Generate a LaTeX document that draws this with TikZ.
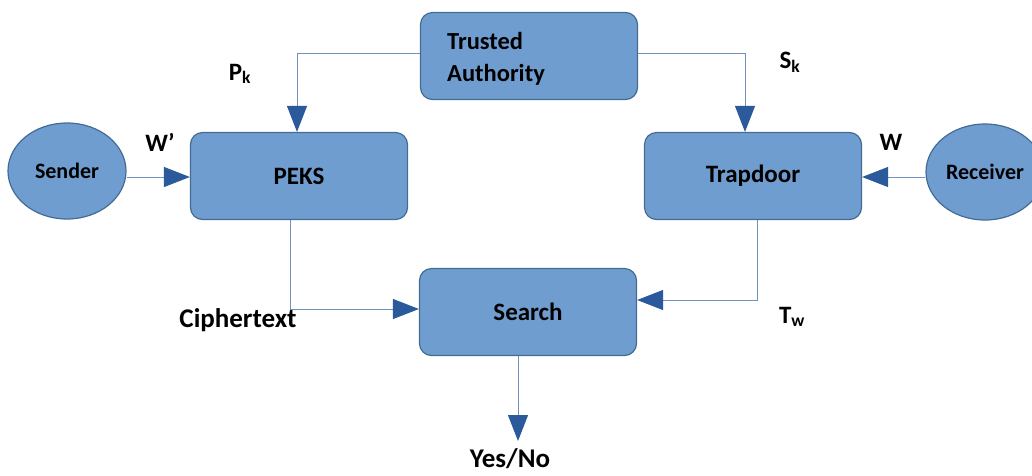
\documentclass[tikz,border=0pt]{standalone}
\usepackage{fontspec}
\setmainfont{Carlito}
\usetikzlibrary{arrows.meta,shapes.geometric}
\definecolor{boxfill}{RGB}{112,157,208}
\definecolor{boxline}{RGB}{66,108,150}
\definecolor{wire}{RGB}{110,145,190}
\definecolor{tipblue}{RGB}{42,90,155}
\tikzset{
  stage/.style={draw=boxline, line width=1.2pt, fill=boxfill, rounded corners=12pt,
    minimum width=217pt, minimum height=87pt, font=\fontsize{25}{28}\selectfont\bfseries},
  party/.style={ellipse, draw=boxline, line width=1.2pt, fill=boxfill,
    minimum width=118pt, minimum height=96pt, inner sep=0pt, font=\fontsize{22}{24}\selectfont\bfseries},
  flow/.style={draw=wire, line width=1pt,
    -{Triangle[length=26pt,width=20pt,fill=tipblue,color=tipblue]}},
  tag/.style={font=\fontsize{25}{28}\selectfont\bfseries, inner sep=0pt}
}
\begin{document}
\begin{tikzpicture}[x=1pt,y=-1pt]
\useasboundingbox (0,0) rectangle (1032,475);

% processing stages
\node[stage] (ta) at (529,56) {};
\node[align=left, anchor=west, inner sep=0pt,
  font=\fontsize{24.5}{32}\selectfont\bfseries] (talabel) at (447,59)
  {Trusted\\Authority};
\node[stage] (peks) at (299,176) {PEKS};
\node[stage] (trap) at (753,176) {Trapdoor};
\node[stage] (search) at (528,312) {Search};

% communicating parties
\node[party] (sender) at (67,171) {Sender};
\node[party] (receiver) at (985,172) {Receiver};

% key distribution
\coordinate (pkcorner) at (297,53);
\coordinate (skcorner) at (745,53);
\draw[flow] (ta.west |- pkcorner) -- (pkcorner) -- (pkcorner |- peks.north);
\draw[flow] (ta.east |- skcorner) -- (skcorner) -- (skcorner |- trap.north);

% keyword inputs
\draw[flow] (sender.east |- 0,177) -- (peks.west |- 0,177);
\draw[flow] (receiver.west |- 0,177) -- (trap.east |- 0,177);

% ciphertext and trapdoor into search
\coordinate (ctcorner) at (290,309);
\coordinate (twcorner) at (757,300);
\draw[flow] (ctcorner |- peks.south) -- (ctcorner) -- (search.west |- ctcorner);
\draw[flow] (twcorner |- trap.south) -- (twcorner) -- (search.east |- twcorner);

% result
\coordinate (result) at (518,441);
\draw[flow] (result |- search.south) -- (result);

% labels
\node[tag] (pk) at (240,74) {P\textsubscript{k}};
\node[tag] (sk) at (790,62) {S\textsubscript{k}};
\node[tag] (wprime) at (160,142) {W’};
\node[tag] (w) at (891,142) {W};
\node[tag] (ct) at (238,320) {\fontsize{27}{30}\selectfont\bfseries Ciphertext};
\node[tag] (tw) at (792,317) {T\textsubscript{w}};
\node[tag] (yn) at (510,459) {\fontsize{27}{30}\selectfont\bfseries Yes/No};
\end{tikzpicture}
\end{document}
